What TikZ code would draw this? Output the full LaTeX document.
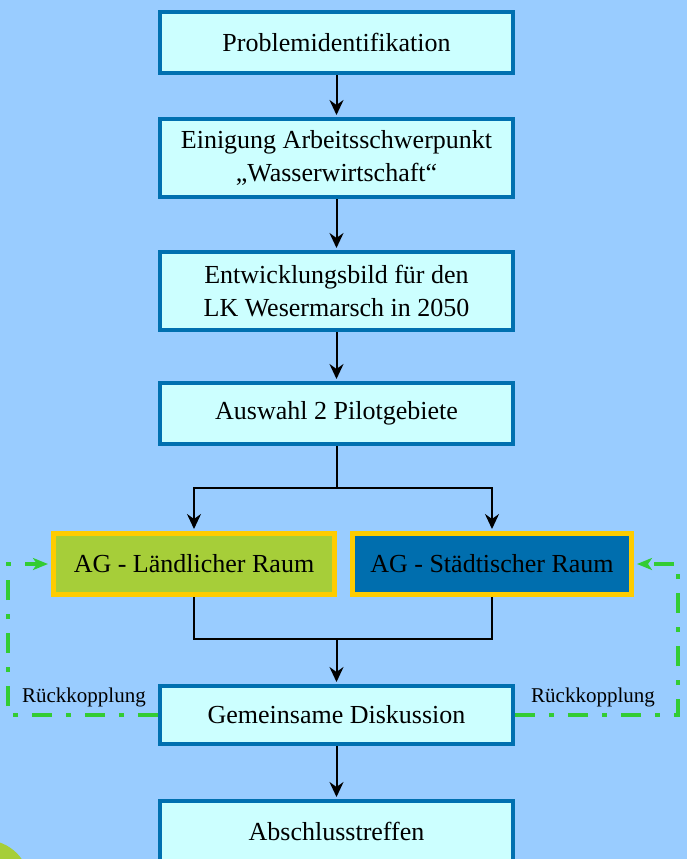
\documentclass[tikz,border=0pt]{standalone}
\usepackage{fontspec}
\setmainfont{Liberation Serif}
\usetikzlibrary{arrows.meta}
\definecolor{bgc}{HTML}{99CCFF}
\definecolor{boxfill}{HTML}{CCFFFF}
\definecolor{boxline}{HTML}{0070B0}
\definecolor{agyellow}{HTML}{FFCC00}
\definecolor{aggreen}{HTML}{A6CE39}
\definecolor{agblue}{HTML}{006EAE}
\definecolor{fbgreen}{HTML}{33CC33}
\tikzset{
  blacktip/.tip={Stealth[length=15pt,width=14pt,inset=5pt]},
  greentip/.tip={Stealth[length=15pt,width=12pt,inset=4pt]}
}
\begin{document}
\begin{tikzpicture}[x=1pt,y=1pt,
  stepbox/.style={draw=boxline, line width=4pt, fill=boxfill, minimum width=353pt,
    align=center, inner sep=0pt, font=\fontsize{26}{33}\selectfont},
  agbox/.style={draw=agyellow, line width=5pt, minimum height=61pt,
    inner sep=0pt, font=\fontsize{26}{33}\selectfont},
  conn/.style={line width=2pt, draw=black},
  arr/.style={conn, arrows={-blacktip}, shorten >=2pt},
  fb/.style={draw=fbgreen, line width=4pt, dash pattern=on 20pt off 14pt on 5pt off 14pt,
    arrows={-greentip}, shorten >=3pt},
  fblabel/.style={inner sep=0pt, font=\fontsize{21}{24}\selectfont}]
\useasboundingbox (0,0) rectangle (687,-859);
\clip (0,0) rectangle (687,-859);
\fill[bgc] (0,0) rectangle (687,-859);
\fill[aggreen] (-15,-885) circle (45);

\node[stepbox, minimum height=61pt] (b1) at (336.5,-42.5) {Problemidentifikation};
\node[stepbox, minimum height=78pt] (b2) at (336.5,-158) {Einigung Arbeitsschwerpunkt\\„Wasserwirtschaft“};
\node[stepbox, minimum height=78pt] (b3) at (336.5,-291) {Entwicklungsbild für den\\LK Wesermarsch in 2050};
\node[stepbox, minimum height=61pt] (b4) at (336.5,-413.5) {Auswahl 2 Pilotgebiete};
\node[agbox, fill=aggreen, minimum width=281pt] (agl) at (194,-564) {AG - Ländlicher Raum};
\node[agbox, fill=agblue, minimum width=279pt] (ags) at (492,-564) {AG - Städtischer Raum};
\node[stepbox, minimum height=58pt] (gem) at (336.5,-715) {Gemeinsame Diskussion};
\node[stepbox, minimum height=61pt] (abs) at (336.5,-831.5) {Abschlusstreffen};

\coordinate (split) at (336.5,-488);
\coordinate (join) at (336.5,-639);
\coordinate (lk) at (8,-564);
\coordinate (rk) at (678,-564);

\draw[arr] (b1) -- (b2);
\draw[arr] (b2) -- (b3);
\draw[arr] (b3) -- (b4);
\draw[conn] (b4) -- (split);
\draw[arr] (split) -| (agl.north);
\draw[arr] (split) -| (ags.north);
\draw[conn] (agl.south) |- (join) -| (ags.south);
\draw[arr] (join) -- (gem.north);
\draw[arr] (gem) -- (abs);

\draw[fb] (gem.west) -| (lk) -- (agl.west);
\draw[fb] (gem.east) -| (rk) -- (ags.east);

\node[fblabel] (l1) at (84,-697) {Rückkopplung};
\node[fblabel] (l2) at (593,-697) {Rückkopplung};
\end{tikzpicture}
\end{document}
